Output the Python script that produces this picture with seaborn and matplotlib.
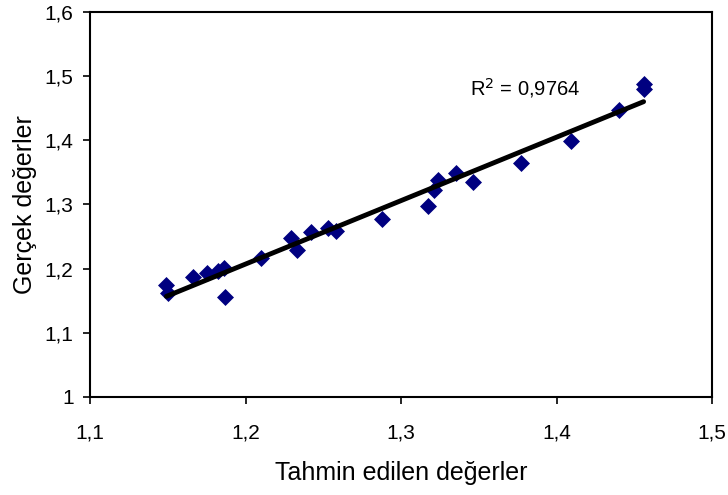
import numpy as np
import pandas as pd
import matplotlib
matplotlib.use("Agg")
import matplotlib.pyplot as plt
import seaborn as sns
from matplotlib.ticker import FuncFormatter, MultipleLocator

# data
predicted = [1.149, 1.150, 1.166, 1.175, 1.182, 1.186, 1.187, 1.210, 1.229, 1.233,
             1.242, 1.253, 1.258, 1.288, 1.317, 1.321, 1.324, 1.335, 1.346, 1.377,
             1.409, 1.440, 1.456, 1.456]
actual = [1.175, 1.162, 1.187, 1.193, 1.196, 1.201, 1.156, 1.216, 1.248, 1.229,
          1.257, 1.263, 1.259, 1.277, 1.298, 1.322, 1.338, 1.349, 1.335, 1.364,
          1.399, 1.447, 1.488, 1.480]
r2_text = "R$^2$ = 0,9764"

df = pd.DataFrame({"pred": predicted, "act": actual})

sns.set_style("white")
plt.rcParams["font.family"] = ["Liberation Sans", "DejaVu Sans"]
plt.rcParams["text.color"] = "black"
plt.rcParams["axes.labelcolor"] = "black"
plt.rcParams["xtick.color"] = "black"
plt.rcParams["ytick.color"] = "black"

fig, ax = plt.subplots(figsize=(7.28, 4.95), dpi=100)
fig.subplots_adjust(left=0.124, right=0.978, top=0.976, bottom=0.198)

sns.regplot(data=df, x="pred", y="act", ax=ax, ci=None, truncate=True,
            marker="D", scatter_kws={"color": "#000080", "s": 75, "linewidths": 0, "alpha": 1},
            line_kws={"color": "black", "lw": 3.5, "zorder": 1})

ax.set_xlim(1.1, 1.5)
ax.set_ylim(1.0, 1.6)
ax.xaxis.set_major_locator(MultipleLocator(0.1))
ax.yaxis.set_major_locator(MultipleLocator(0.1))
fmt = FuncFormatter(lambda v, p: f"{round(v, 2):g}".replace(".", ","))
ax.xaxis.set_major_formatter(fmt)
ax.yaxis.set_major_formatter(fmt)
ax.tick_params(axis="both", labelsize=15, length=5, width=1.2, direction="out",
               bottom=True, left=True)
ax.tick_params(axis="x", pad=14)
ax.tick_params(axis="y", pad=7)
for s in ax.spines.values():
    s.set_color("black")
    s.set_linewidth(1.5)

ax.set_xlabel("Tahmin edilen değerler", fontsize=18)
ax.set_ylabel("Gerçek değerler", fontsize=18)
ax.xaxis.set_label_coords(0.5, -0.197)
ax.yaxis.set_label_coords(-0.105, 0.5)
ax.xaxis.label.set_va("center")
ax.yaxis.label.set_va("center")
ax.text(1.344, 1.47, r2_text, fontsize=14.5)

fig.savefig("out.png", dpi=100)
